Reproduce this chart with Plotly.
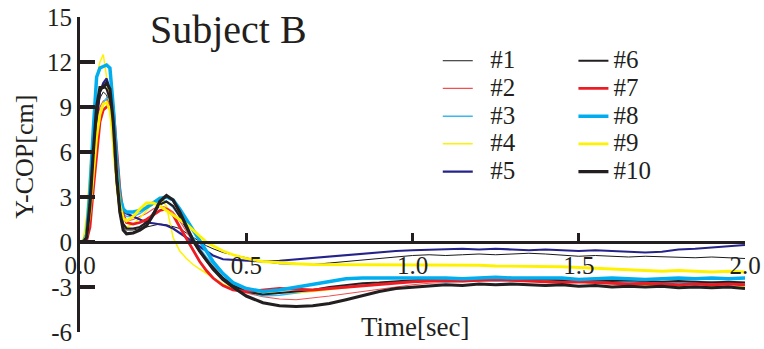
import plotly.graph_objects as go

# time [sec]
t = [0, 0.01, 0.02, 0.03, 0.04, 0.05, 0.06, 0.07, 0.08, 0.09, 0.10, 0.11, 0.12, 0.13, 0.14,
     0.16, 0.18, 0.20, 0.22, 0.24, 0.26, 0.28, 0.30, 0.32, 0.34, 0.36, 0.38, 0.40,
     0.43, 0.46, 0.50, 0.55,
     0.60, 0.65, 0.70, 0.75, 0.80, 0.85, 0.90, 0.95, 1.00,
     1.05, 1.10, 1.15, 1.20, 1.25, 1.30, 1.35, 1.40, 1.45, 1.50,
     1.55, 1.60, 1.65, 1.70, 1.75, 1.80, 1.85, 1.90, 1.95, 2.00]

s1 = [0, 0, 0.4, 2.5, 6.0, 8.5, 9.6, 10.0, 9.8, 9.0, 7.0, 3.8, 1.8, 1.0, 0.8,
      0.8, 0.9, 1.0, 1.1, 1.2, 1.15, 1.05, 0.9, 0.6, 0.3, 0.0, -0.25, -0.45,
      -0.7, -0.85, -1.05, -1.3, -1.45, -1.5, -1.5, -1.4, -1.3, -1.15, -1.05, -0.95, -0.9,
      -0.85, -0.9, -0.85, -0.8, -0.85, -0.8, -0.75, -0.8, -0.9, -0.95,
      -0.9, -0.95, -1.0, -0.95, -1.0, -1.0, -1.05, -1.0, -1.05, -1.1]
s2 = [0, 0, 0.5, 2.5, 5.5, 8.0, 9.0, 9.4, 9.5, 9.0, 7.0, 4.0, 2.2, 1.5, 1.4,
      1.5, 1.7, 1.9, 2.2, 2.4, 2.3, 2.0, 1.4, 0.7, 0.0, -0.7, -1.3, -1.8,
      -2.5, -3.0, -3.4, -3.65, -3.8, -3.85, -3.75, -3.6, -3.45, -3.3, -3.1, -2.95, -2.85,
      -2.75, -2.7, -2.65, -2.6, -2.6, -2.55, -2.6, -2.55, -2.6, -2.65,
      -2.6, -2.7, -2.65, -2.7, -2.75, -2.7, -2.75, -2.8, -2.75, -2.8]
s3 = [0, 0, 0.2, 1.5, 4.0, 6.5, 8.5, 9.3, 9.6, 9.5, 8.0, 5.0, 2.8, 1.9, 1.7,
      1.7, 1.9, 2.2, 2.5, 2.8, 2.7, 2.3, 1.7, 1.0, 0.3, -0.4, -1.0, -1.5,
      -2.2, -2.8, -3.3, -3.6, -3.55, -3.4, -3.25, -3.1, -2.95, -2.85, -2.75, -2.7, -2.65,
      -2.6, -2.65, -2.6, -2.55, -2.6, -2.6, -2.55, -2.6, -2.65, -2.6,
      -2.65, -2.7, -2.65, -2.7, -2.65, -2.7, -2.7, -2.65, -2.7, -2.7]
s4 = [0, 0.2, 1.8, 5.0, 8.5, 11.0, 12.0, 12.5, 11.0, 9.0, 6.0, 3.5, 1.8, 1.2, 1.0,
      1.2, 1.6, 2.1, 2.6, 3.0, 2.4, 0.3, -0.6, -1.1, -1.5, -1.8, -2.1, -2.4,
      -2.8, -3.1, -3.3, -3.4, -3.4, -3.35, -3.3, -3.2, -3.05, -2.9, -2.75, -2.7, -2.6,
      -2.55, -2.5, -2.55, -2.5, -2.45, -2.5, -2.55, -2.6, -2.65, -2.7,
      -2.75, -2.8, -2.85, -2.9, -2.9, -2.95, -3.0, -2.95, -3.0, -3.0]
s5 = [0, 0, 0.3, 2.0, 5.0, 8.0, 10.0, 10.6, 10.9, 10.2, 7.5, 4.5, 2.6, 2.0, 1.9,
      1.7, 1.5, 1.3, 1.25, 1.2, 1.1, 0.9, 0.6, 0.3, 0.0, -0.3, -0.6, -0.9,
      -1.15, -1.2, -1.25, -1.3, -1.25, -1.15, -1.05, -0.95, -0.85, -0.75, -0.7, -0.6, -0.55,
      -0.5, -0.5, -0.45, -0.5, -0.45, -0.5, -0.55, -0.5, -0.55, -0.6,
      -0.55, -0.6, -0.65, -0.7, -0.65, -0.5, -0.45, -0.35, -0.3, -0.2]
s6 = [0, 0, 0.3, 2.0, 5.5, 8.5, 10.0, 10.4, 10.2, 9.5, 7.5, 4.0, 2.0, 1.2, 0.9,
      0.9, 1.0, 1.3, 1.9, 2.5, 2.7, 2.4, 1.7, 0.9, 0.1, -0.6, -1.2, -1.7,
      -2.4, -2.9, -3.3, -3.5, -3.4, -3.3, -3.2, -3.0, -2.85, -2.75, -2.7, -2.6, -2.55,
      -2.5, -2.55, -2.5, -2.45, -2.5, -2.5, -2.45, -2.5, -2.55, -2.5,
      -2.55, -2.6, -2.55, -2.6, -2.65, -2.6, -2.65, -2.7, -2.65, -2.7]
s7 = [0, 0, 0.1, 1.0, 3.5, 6.0, 8.0, 8.8, 9.0, 9.2, 9.0, 6.5, 3.5, 1.8, 1.3,
      1.2, 1.3, 1.5, 1.8, 2.1, 2.2, 1.8, 1.0, 0.2, -0.6, -1.3, -1.9, -2.4,
      -2.9, -3.2, -3.3, -3.2, -3.1, -3.15, -3.2, -3.1, -3.0, -2.9, -2.8, -2.7, -2.65,
      -2.6, -2.55, -2.6, -2.55, -2.5, -2.55, -2.6, -2.65, -2.7, -2.65,
      -2.7, -2.75, -2.8, -2.75, -2.8, -2.85, -2.8, -2.85, -2.8, -2.85]
s8 = [0, 0, 0.5, 3.5, 7.5, 11.0, 11.6, 11.7, 11.8, 11.6, 9.0, 5.5, 3.0, 2.2, 2.0,
      2.0, 2.1, 2.3, 2.6, 2.9, 3.0, 2.8, 2.2, 1.5, 0.7, 0.0, -0.7, -1.3,
      -2.1, -2.7, -3.1, -3.3, -3.2, -3.0, -2.8, -2.6, -2.45, -2.4, -2.4, -2.35, -2.4,
      -2.35, -2.4, -2.45, -2.4, -2.35, -2.4, -2.4, -2.45, -2.4, -2.5,
      -2.45, -2.4, -2.45, -2.5, -2.45, -2.4, -2.45, -2.4, -2.45, -2.4]
s9 = [0, 0, 0.4, 2.0, 4.5, 7.0, 8.5, 9.2, 9.3, 8.8, 7.0, 4.5, 2.5, 1.6, 1.4,
      1.7, 2.2, 2.6, 2.6, 2.4, 2.1, 1.8, 1.5, 1.2, 0.8, 0.4, 0.0, -0.25,
      -0.6, -0.85, -1.1, -1.3, -1.4, -1.45, -1.5, -1.5, -1.5, -1.5, -1.5, -1.5, -1.5,
      -1.5, -1.55, -1.5, -1.55, -1.6, -1.6, -1.65, -1.6, -1.65, -1.7,
      -1.75, -1.8, -1.85, -1.9, -1.95, -1.9, -1.95, -2.0, -1.95, -2.0]
s10 = [0, 0, 0.3, 2.5, 6.0, 9.0, 10.3, 10.3, 10.6, 10.2, 8.0, 4.5, 2.0, 0.8, 0.55,
       0.6, 0.8, 1.1, 1.8, 2.7, 3.1, 2.8, 2.0, 1.0, 0.1, -0.6, -1.2, -1.8,
       -2.5, -3.0, -3.6, -4.05, -4.25, -4.3, -4.25, -4.1, -3.85, -3.55, -3.3, -3.1, -3.0,
       -2.95, -2.85, -2.9, -2.8, -2.85, -2.8, -2.85, -2.9, -2.85, -2.95,
       -2.9, -3.0, -2.95, -3.0, -2.95, -3.05, -3.0, -3.05, -3.0, -3.1]

names = ["#1", "#2", "#3", "#4", "#5", "#6", "#7", "#8", "#9", "#10"]
series = [s1, s2, s3, s4, s5, s6, s7, s8, s9, s10]

ytick_vals = [15, 12, 9, 6, 3, 0, -3, -6]
ytick_text = ["15", "12", "9", "6", "3", "0", "-3", "-6"]
xtick_vals = [0, 0.5, 1.0, 1.5, 2.0]
xtick_text = ["0.0", "0.5", "1.0", "1.5", "2.0"]

colors = ["#1a1a1a", "#f05050", "#3ab8f0", "#fff200", "#25238a",
          "#231f20", "#ed1c24", "#00aeef", "#fff200", "#231f20"]
widths = [1, 1.2, 1.5, 1.5, 2.2, 2.2, 2.8, 3.5, 2.8, 3.2]

for s in series:
    assert len(s) == len(t), len(s)

FONT = "Liberation Serif"
TXT = "#231f20"

fig = go.Figure()
for i, (nm, s) in enumerate(zip(names, series)):
    pad = "&nbsp;&nbsp;" if i < 5 else ""
    fig.add_trace(go.Scatter(
        x=t, y=s, mode="lines",
        name=f"<span style='font-size:25px'>{pad}{nm}</span>",
        line=dict(color=colors[i], width=widths[i]),
        legend="legend" if i < 5 else "legend2",
    ))

fig.update_layout(
    width=764, height=349,
    margin=dict(l=80, r=19, t=17, b=17, autoexpand=False),
    paper_bgcolor="white", plot_bgcolor="white",
    font=dict(family=FONT, size=25, color=TXT),
    legend=dict(x=0.538, y=0.921, xanchor="left", yanchor="top",
                bgcolor="rgba(0,0,0,0)", font=dict(size=19, family=FONT, color=TXT),
                tracegroupgap=0),
    legend2=dict(x=0.742, y=0.921, xanchor="left", yanchor="top",
                 bgcolor="rgba(0,0,0,0)", font=dict(size=19, family=FONT, color=TXT),
                 tracegroupgap=0),
    xaxis=dict(range=[0, 2.0], anchor="free", position=6 / 21, automargin=False,
               showline=True, linewidth=3, linecolor="#231f20",
               ticks="inside", ticklen=8, tickwidth=3, tickcolor="#231f20",
               tickvals=xtick_vals, ticktext=xtick_text,
               showgrid=False, zeroline=False,
               tickfont=dict(family=FONT, size=25, color=TXT)),
    yaxis=dict(range=[-6, 15], showline=True, linewidth=3, linecolor="#231f20",
               automargin=False,
               ticks="inside", ticklen=15, tickwidth=4, tickcolor="#231f20",
               tickvals=ytick_vals, ticktext=ytick_text,
               showgrid=False, zeroline=False, ticklabelstandoff=0,
               tickfont=dict(family=FONT, size=25, color=TXT)),
    annotations=[
        dict(text="Subject B", xref="paper", yref="paper", x=0.2226, y=0.959,
             xanchor="center", yanchor="middle", showarrow=False,
             font=dict(family=FONT, size=40, color=TXT)),
        dict(text="Y-COP[cm]", xref="paper", yref="paper", x=-0.0827, y=0.556,
             xanchor="center", yanchor="middle", showarrow=False, textangle=-90,
             font=dict(family=FONT, size=26, color=TXT)),
        dict(text="Time[sec]", xref="paper", yref="paper", x=0.504, y=0.016,
             xanchor="center", yanchor="middle", showarrow=False,
             font=dict(family=FONT, size=27, color=TXT)),
    ],
)

fig.write_html("out.html")
